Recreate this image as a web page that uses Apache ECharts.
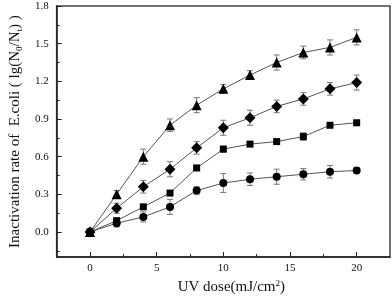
<!DOCTYPE html>
<html><head><meta charset="utf-8">
<script src="https://cdn.jsdelivr.net/npm/echarts@6/dist/echarts.min.js"></script>
<style>html,body{margin:0;padding:0;background:#fff}#c{width:392px;height:300px}</style>
</head><body><div id="c"></div>
<script>
const doses = [0, 2, 4, 6, 8, 10, 12, 14, 16, 18, 20];
const triVals = [0, 0.30, 0.60, 0.85, 1.01, 1.14, 1.25, 1.35, 1.43, 1.47, 1.55];
const triErr  = [0, 0.03, 0.06, 0.05, 0.06, 0.035, 0.035, 0.06, 0.05, 0.06, 0.06];
const diaVals = [0, 0.19, 0.36, 0.50, 0.67, 0.83, 0.91, 1.00, 1.06, 1.14, 1.19];
const diaErr  = [0, 0.04, 0.05, 0.06, 0.05, 0.06, 0.06, 0.05, 0.05, 0.05, 0.06];
const sqVals  = [0, 0.09, 0.20, 0.31, 0.51, 0.66, 0.70, 0.72, 0.76, 0.85, 0.87];
const sqErr   = [0, 0.02, 0.02, 0.02, 0.02, 0.023, 0.015, 0.015, 0.03, 0.01, 0.01];
const cirVals = [0, 0.07, 0.12, 0.20, 0.33, 0.39, 0.42, 0.44, 0.46, 0.48, 0.49];
const cirErr  = [0, 0.03, 0.04, 0.06, 0.03, 0.075, 0.05, 0.06, 0.045, 0.05, 0.02];
const xTickLabels = [0, 5, 10, 15, 20];
const xMinorTicks = [2.5, 7.5, 12.5, 17.5];
const yTickLabels = [0, 0.3, 0.6, 0.9, 1.2, 1.5, 1.8];
const yMinorTicks = [-0.15, 0.15, 0.45, 0.75, 1.05, 1.35, 1.65];

const font = 'Liberation Serif';
const chart = echarts.init(document.getElementById('c'));

function lineSeries(vals, symbol, size) {
  return {
    type: 'line', xAxisIndex: 0, yAxisIndex: 0,
    data: doses.map((d, i) => [d, vals[i]]),
    symbol: symbol, symbolSize: size,
    itemStyle: { color: '#000' },
    lineStyle: { color: '#555', width: 1 },
    z: 3, animation: false
  };
}
function errSeries(vals, errs) {
  return {
    type: 'custom', xAxisIndex: 0, yAxisIndex: 0,
    data: doses.map((d, i) => [d, vals[i], errs[i]]),
    renderItem: function (params, api) {
      const x = api.value(0), y = api.value(1), e = api.value(2);
      const hi = api.coord([x, y + e]);
      const lo = api.coord([x, y - e]);
      const w = 3;
      const st = { stroke: '#777', lineWidth: 1 };
      return { type: 'group', children: [
        { type: 'line', shape: { x1: hi[0], y1: hi[1], x2: lo[0], y2: lo[1] }, style: st },
        { type: 'line', shape: { x1: hi[0] - w, y1: hi[1], x2: hi[0] + w, y2: hi[1] }, style: st },
        { type: 'line', shape: { x1: lo[0] - w, y1: lo[1], x2: lo[0] + w, y2: lo[1] }, style: st }
      ]};
    },
    z: 2, animation: false
  };
}

const axisLineStyle = { color: '#222', width: 1.5 };
chart.setOption({
  animation: false,
  grid: { left: 40, right: 2, top: 6, bottom: 34, show: true, borderColor: '#444', borderWidth: 1.5 },
  xAxis: [{
    type: 'value', min: -2.5, max: 22.5,
    axisLine: { show: true, onZero: false, lineStyle: axisLineStyle },
    axisTick: { show: true, inside: true, length: 5, customValues: xTickLabels, lineStyle: { color: '#222' } },
    axisLabel: { customValues: xTickLabels, fontFamily: font, fontSize: 11, color: '#111', margin: 6 },
    splitLine: { show: false },
    name: 'UV dose(mJ/cm{sup|2})', nameLocation: 'middle', nameGap: 20,
    nameTextStyle: { fontFamily: font, fontSize: 15, color: '#111', padding: [0, 0, 0, 16],
      rich: { sup: { fontFamily: font, fontSize: 9, color: '#111', padding: [0, 0, 8, 0] } } }
  }, {
    type: 'value', min: -2.5, max: 22.5, position: 'bottom',
    axisLine: { show: false, onZero: false },
    axisTick: { show: true, inside: true, length: 3, customValues: xMinorTicks, lineStyle: { color: '#222' } },
    axisLabel: { show: false }, splitLine: { show: false }
  }],
  yAxis: [{
    type: 'value', min: -0.2, max: 1.8,
    axisLine: { show: true, onZero: false, lineStyle: axisLineStyle },
    axisTick: { show: true, inside: true, length: 5, customValues: yTickLabels, lineStyle: { color: '#222' } },
    axisLabel: { customValues: yTickLabels, fontFamily: font, fontSize: 11, color: '#111', margin: 8,
      formatter: v => v.toFixed(1) },
    splitLine: { show: false },
    name: 'Inactivation rate of  E.coli ( lg(N{sub|0}/N{sub|t}) )', nameLocation: 'middle', nameGap: 28,
    nameTextStyle: { fontFamily: font, fontSize: 15, color: '#111',
      rich: { sub: { fontFamily: font, fontSize: 9, color: '#111', padding: [8, 0, 0, 0] } } }
  }, {
    type: 'value', min: -0.2, max: 1.8, position: 'left',
    axisLine: { show: false, onZero: false },
    axisTick: { show: true, inside: true, length: 3, customValues: yMinorTicks, lineStyle: { color: '#222' } },
    axisLabel: { show: false }, splitLine: { show: false }
  }],
  series: [
    errSeries(triVals, triErr), errSeries(diaVals, diaErr), errSeries(sqVals, sqErr), errSeries(cirVals, cirErr),
    lineSeries(triVals, 'triangle', 10),
    lineSeries(diaVals, 'diamond', 11),
    lineSeries(sqVals, 'rect', 7),
    lineSeries(cirVals, 'circle', 8)
  ]
});
</script></body></html>
